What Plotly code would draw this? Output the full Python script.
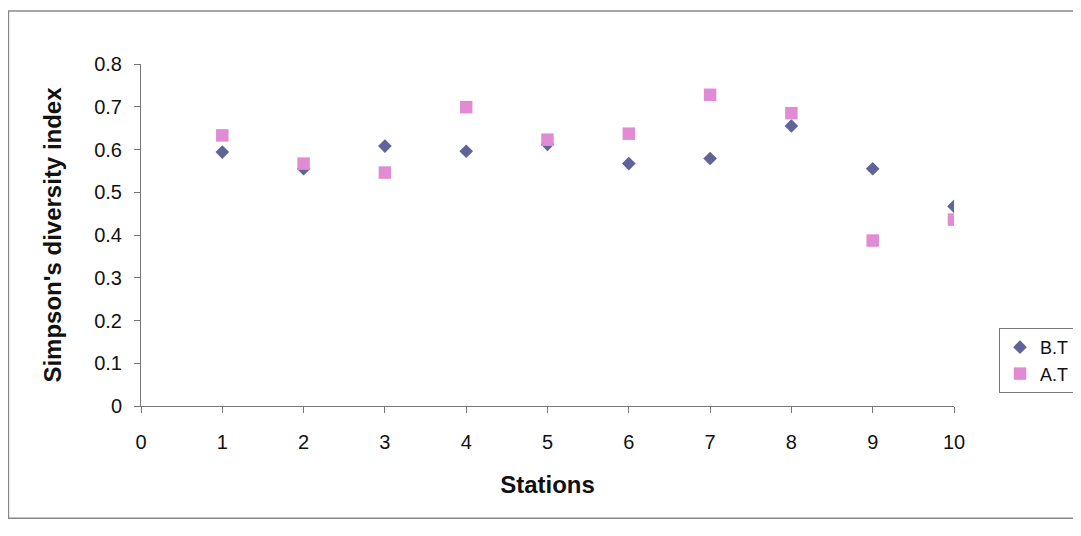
import plotly.graph_objects as go

stations = [1, 2, 3, 4, 5, 6, 7, 8, 9, 10]
bt_values = [0.594, 0.555, 0.608, 0.596, 0.612, 0.567, 0.579, 0.655, 0.555, 0.467]
at_values = [0.633, 0.567, 0.546, 0.699, 0.623, 0.637, 0.728, 0.685, 0.387, 0.436]
x_ticks = [0, 1, 2, 3, 4, 5, 6, 7, 8, 9, 10]
y_ticks = [0, 0.1, 0.2, 0.3, 0.4, 0.5, 0.6, 0.7, 0.8]
y_tick_labels = ["0", "0.1", "0.2", "0.3", "0.4", "0.5", "0.6", "0.7", "0.8"]

# page body adds an 8px offset; figure coords = target pixel - 8
W, H = 1073, 528
L, R, T, B = 133, 945.6, 56, 398.5
pw, ph = R - L, B - T

def px(x):
    return (x - L) / pw

def py(y):
    return (B - y) / ph

FONT = "Liberation Sans, Arial, sans-serif"

fig = go.Figure()
fig.add_trace(go.Scatter(
    x=stations, y=bt_values, mode="markers", name="B.T",
    marker=dict(symbol="diamond", size=10.5, color="#5f6399"),
))
fig.add_trace(go.Scatter(
    x=stations, y=at_values, mode="markers", name="A.T",
    marker=dict(symbol="square", size=12.5, color="#e28bd5"),
))

fig.update_layout(
    width=W, height=H,
    margin=dict(l=L, r=W - R, t=T, b=H - B, pad=0, autoexpand=False),
    paper_bgcolor="white", plot_bgcolor="white",
    font=dict(family=FONT, size=20, color="#111111"),
    showlegend=True,
    legend=dict(
        xref="container", yref="container",
        x=991 / W, y=1 - 320 / H, xanchor="left", yanchor="top",
        bordercolor="#777777", borderwidth=1, bgcolor="white",
        font=dict(size=18), itemwidth=30, tracegroupgap=0,
    ),
    shapes=[dict(
        type="rect", xref="paper", yref="paper",
        x0=px(0.5), x1=px(1068), y0=py(511), y1=py(3),
        line=dict(color="#888888", width=1.5), fillcolor="rgba(0,0,0,0)",
        layer="below",
    )],
)

fig.update_xaxes(
    range=[0, 10], tickvals=x_ticks, ticktext=[str(v) for v in x_ticks],
    showgrid=False, zeroline=False, showline=True, linecolor="#777777", linewidth=1,
    ticks="outside", ticklen=6, tickcolor="#777777",
    ticklabelstandoff=12,
    title=dict(text="<b>Stations</b>", font=dict(size=24), standoff=24),
)
fig.update_yaxes(
    range=[0, 0.8], tickvals=y_ticks, ticktext=y_tick_labels,
    showgrid=False, zeroline=False, showline=True, linecolor="#777777", linewidth=1,
    ticks="outside", ticklen=6, tickcolor="#777777",
    ticklabelstandoff=8,
    title=dict(text="<b>Simpson's diversity index</b>", font=dict(size=24), standoff=25),
)

fig.write_html("out.html")
